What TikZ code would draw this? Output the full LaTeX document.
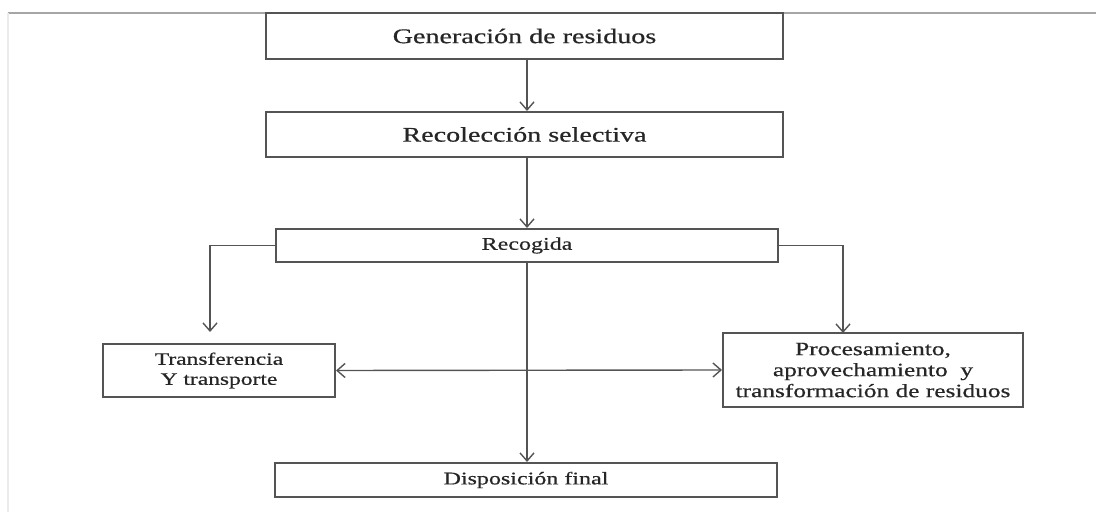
\documentclass[tikz,border=0pt]{standalone}
\usepackage{fontspec}
\setmainfont{Liberation Serif}[FakeStretch=1.35, FakeBold=0.6]
\usepackage{tikz}
\usetikzlibrary{arrows.meta}
\definecolor{mgray}{rgb}{0.33, 0.33, 0.33}
\tikzset{box/.style = {draw = mgray, line width = 1pt, rectangle, inner sep = 0, align = center, text = black!85}}
\tikzset{conn/.style = {draw = mgray, line width = 0.7pt, -{Straight Barb[length = 4pt, width = 7pt]}}}
\begin{document}
\begin{tikzpicture}[x = 0.5pt, y = -0.5pt]
      \useasboundingbox (0, 0) rectangle (1096, 512);
      \draw [black!35, line width = 0.6pt] (8, 13) -- (1096, 13);
      \draw [black!8, line width = 0.6pt] (8, 13) -- (8, 512);
      \node [box, minimum width = 258.5pt, minimum height = 23pt, font = \fontsize{10.4}{12}\selectfont] (gen) at (524.5, 36) {Generación de residuos};
      \node [box, minimum width = 258.5pt, minimum height = 22.5pt, font = \fontsize{10.4}{12}\selectfont] (recol) at (524.5, 134.5) {Recolección selectiva};
      \node [box, minimum width = 251pt, minimum height = 16.5pt, font = \fontsize{8.9}{10.5}\selectfont] (recog) at (527, 245.5) {Recogida};
      \node [box, minimum width = 116pt, minimum height = 26.5pt, font = \fontsize{8.7}{10}\selectfont] (trans) at (219, 370.5) {Transferencia\\Y transporte};
      \node [box, minimum width = 150pt, minimum height = 37pt, font = \fontsize{9.4}{10.5}\selectfont] (proc) at (873, 370) {Procesamiento,\\aprovechamiento~ y\\transformación de residuos};
      \node [box, minimum width = 251pt, minimum height = 17pt, font = \fontsize{8.9}{10.5}\selectfont] (disp) at (526, 480) {Disposición final};
      \coordinate (tl) at (210, 332);
      \coordinate (tr) at (843, 333);
      \draw [conn] (gen.south -| recog) -- (recol.north -| recog);
      \draw [conn] (recol.south -| recog) -- (recog.north);
      \draw [conn] (recog.west) -| (tl);
      \draw [conn] (recog.east) -| (tr);
      \draw [conn, {Straight Barb[length = 4pt, width = 7pt]}-{Straight Barb[length = 4pt, width = 7pt]}] (trans.east) -- (proc.west);
      \draw [conn] (recog.south) -- (disp.north -| recog.south);
    \end{tikzpicture}
\end{document}
